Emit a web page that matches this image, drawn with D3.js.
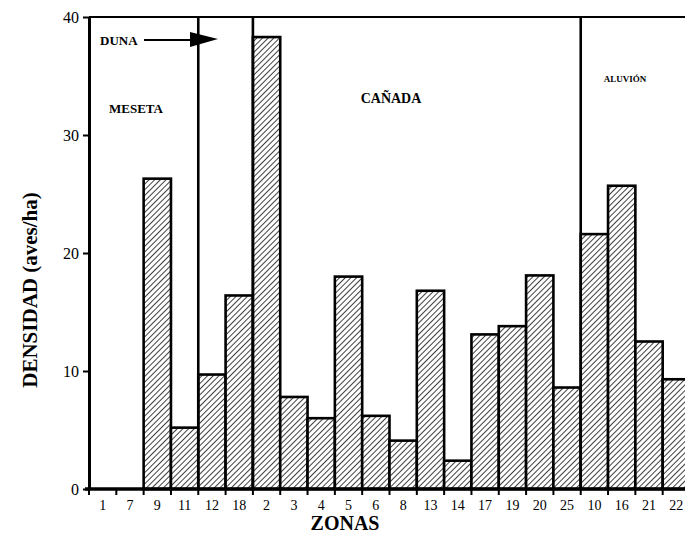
<!DOCTYPE html>
<html><head><meta charset="utf-8">
<script src="https://cdn.jsdelivr.net/npm/d3@7"></script>
<style>body{margin:0;background:#fff}svg{display:block}</style>
</head><body>
<script>
const zones = ["1","7","9","11","12","18","2","3","4","5","6","8","13","14","17","19","20","25","10","16","21","22"];
const densities = [0,0,26.3,5.2,9.7,16.4,38.3,7.8,6.0,18.0,6.2,4.1,16.8,2.4,13.1,13.8,18.1,8.6,21.6,25.7,12.5,9.3];
const yTicks = [0,10,20,30,40];
const dividers = ["12","2","10"]; // zones where a habitat section starts
const sectionLabels = ["MESETA","CAÑADA","ALUVIÓN"];

const W=685,H=542;
const svg=d3.select("body").append("svg").attr("width",W).attr("height",H);
const x=d3.scaleBand().domain(zones).range([89,690]).padding(0);
const y=d3.scaleLinear().domain([0,40]).range([489,17]);

const defs=svg.append("defs");
const pat=defs.append("pattern").attr("id","hatch").attr("patternUnits","userSpaceOnUse")
  .attr("width",4).attr("height",4).attr("patternTransform","rotate(45)");
pat.append("rect").attr("width",4).attr("height",4).attr("fill","#fff");
pat.append("line").attr("x1",0).attr("y1",0).attr("x2",0).attr("y2",4).attr("stroke","#000").attr("stroke-width",1.5);

// bars
svg.append("g").selectAll("rect").data(zones.map((z,i)=>({z,v:densities[i]})).filter(d=>d.v>0))
  .join("rect")
  .attr("x",d=>x(d.z)).attr("y",d=>y(d.v))
  .attr("width",x.bandwidth()).attr("height",d=>y(0)-y(d.v))
  .attr("fill","url(#hatch)").attr("stroke","#000").attr("stroke-width",2.6);

// top frame line
svg.append("line").attr("x1",x.range()[0]).attr("x2",W).attr("y1",y(40)).attr("y2",y(40))
  .attr("stroke","#000").attr("stroke-width",2.2);

// section dividers
svg.append("g").selectAll("line").data(dividers).join("line")
  .attr("x1",d=>x(d)).attr("x2",d=>x(d)).attr("y1",y(40)).attr("y2",y(0))
  .attr("stroke","#000").attr("stroke-width",2.6);

// y axis
const yAxis=d3.axisLeft(y).tickValues(yTicks).tickSize(6).tickSizeOuter(0);
const gy=svg.append("g").attr("transform",`translate(${x.range()[0]},0)`).call(yAxis);
gy.select(".domain").attr("stroke-width",3);
gy.selectAll(".tick line").attr("stroke-width",2);
gy.selectAll("text").attr("font-family","Liberation Serif").attr("font-size",16).attr("fill","#000").attr("x",-10);

// x axis
const xAxis=d3.axisBottom(x).tickSize(0).tickSizeOuter(0);
const gx=svg.append("g").attr("transform",`translate(0,${y(0)})`).call(xAxis);
gx.select(".domain").attr("stroke-width",3.5).attr("d",`M${x.range()[0]-4},0H${W}`);
gx.selectAll("text").attr("font-family","Liberation Serif").attr("font-size",14).attr("fill","#000").attr("dy","1.25em");
// boundary ticks
svg.append("g").selectAll("line").data(zones).join("line")
  .attr("x1",d=>x(d)).attr("x2",d=>x(d)).attr("y1",y(0)).attr("y2",y(0)+6)
  .attr("stroke","#000").attr("stroke-width",2);

// axis titles
svg.append("text").attr("x",345).attr("y",530).attr("text-anchor","middle")
  .attr("font-family","Liberation Serif").attr("font-weight","bold").attr("font-size",20).text("ZONAS");
svg.append("text").attr("transform","translate(37,290) rotate(-90)").attr("text-anchor","middle")
  .attr("font-family","Liberation Serif").attr("font-weight","bold").attr("font-size",21).text("DENSIDAD (aves/ha)");

// section labels
const f="Liberation Serif";
svg.append("text").attr("x",136).attr("y",113).attr("text-anchor","middle").attr("font-family",f).attr("font-weight","bold").attr("font-size",13).text(sectionLabels[0]);
svg.append("text").attr("x",391).attr("y",103).attr("text-anchor","middle").attr("font-family",f).attr("font-weight","bold").attr("font-size",14).text(sectionLabels[1]);
svg.append("text").attr("x",625).attr("y",82).attr("text-anchor","middle").attr("font-family",f).attr("font-weight","bold").attr("font-size",9).text(sectionLabels[2]);

// DUNA arrow
svg.append("text").attr("x",100).attr("y",45).attr("font-family",f).attr("font-weight","bold").attr("font-size",13).text("DUNA");
svg.append("line").attr("x1",144).attr("x2",192).attr("y1",40).attr("y2",40).attr("stroke","#000").attr("stroke-width",2);
svg.append("path").attr("d","M190,32 L218,39 L190,47 Z").attr("fill","#000");
</script>
</body></html>
